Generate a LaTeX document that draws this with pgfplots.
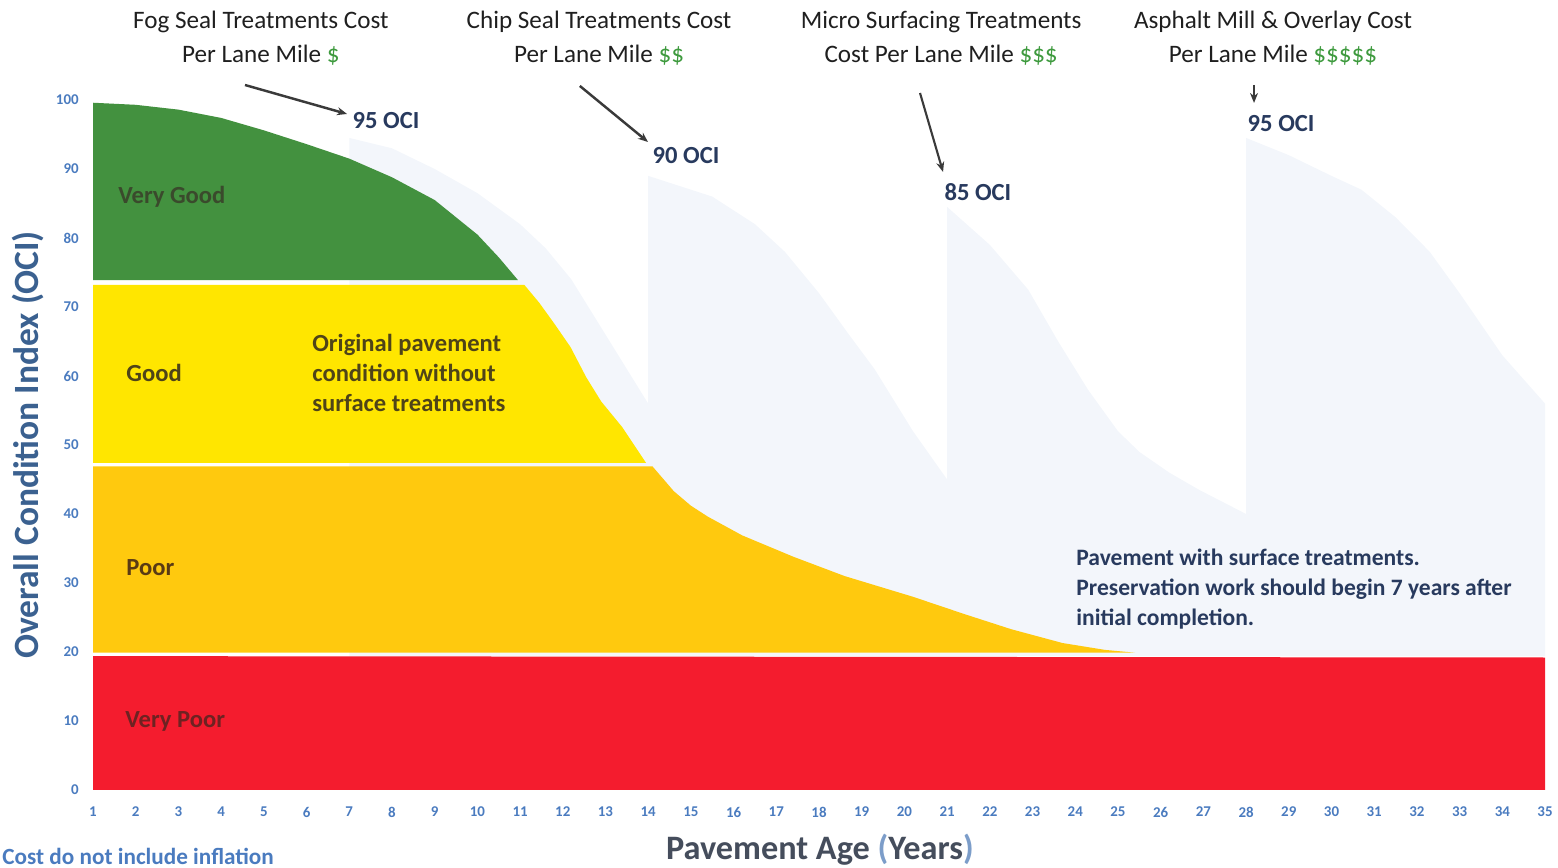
\documentclass[border=0pt]{standalone}
\usepackage{pgfplots}
\pgfplotsset{compat=1.18}
\usetikzlibrary{arrows.meta}
\usepackage{fontspec}
\setmainfont{Carlito}
\definecolor{vgreen}{HTML}{43913F}
\definecolor{vyellow}{HTML}{FFE600}
\definecolor{vorange}{HTML}{FFC90E}
\definecolor{vred}{HTML}{F41C2E}
\definecolor{faint}{HTML}{F3F6FB}
\definecolor{ticklab}{HTML}{4A7BBF}
\definecolor{ylab}{HTML}{3B6190}
\definecolor{xlab}{HTML}{454D5C}
\definecolor{paren}{HTML}{7C9DC9}
\definecolor{ocinavy}{HTML}{283A5E}
\definecolor{dollar}{HTML}{3E9A3E}
\definecolor{arrowgray}{HTML}{3A3A3A}
\definecolor{txtgreen}{HTML}{3A4A2C}
\definecolor{txtyellow}{HTML}{4F4418}
\definecolor{txtorange}{HTML}{5A3A14}
\definecolor{txtred}{HTML}{6E2222}
\begin{document}
\begin{tikzpicture}
\begin{axis}[
  name=ax, at={(0,0)}, anchor=south west,
  scale only axis, width=29.04cm, height=13.8cm,
  xmin=1, xmax=35, ymin=0, ymax=100,
  axis line style={draw=none}, major tick length=0pt,
  xtick={1,...,35}, ytick={0,10,...,100},
  /pgf/number format/assume math mode=true,
  ticklabel style={font=\fontsize{8.5}{9}\selectfont\bfseries, text=ticklab},
  xticklabel style={anchor=center, yshift=-0.44cm},
  yticklabel style={anchor=east, inner sep=0pt, xshift=-0.28cm},
  clip=false,
]
% faint treatment areas (pavement with surface treatments)
\addplot[fill=faint, draw=none] coordinates {(7,19.4)(7,94.5)(8,93)(9,90)(10,86.5)(11,82)(11.6,78.5)(12.2,74)(12.8,68)(13.4,62)(14,56)(14,19.4)} -- cycle;
\addplot[fill=faint, draw=none] coordinates {(14,19.4)(14,89)(15,87)(15.5,86)(16.5,82)(17.2,78)(18,72)(18.7,66)(19.3,61)(20.2,52)(21,45)(21,19.4)} -- cycle;
\addplot[fill=faint, draw=none] coordinates {(21,19.4)(21,84.5)(22,79)(22.9,72.5)(23.6,65)(24.3,58)(25,52)(25.5,49)(26.2,46)(26.9,43.5)(28,40)(28,19.4)} -- cycle;
\addplot[fill=faint, draw=none] coordinates {(28,19.4)(28,94.5)(29,92)(30,89)(30.7,87)(31.5,83)(32.3,78)(33,72)(34,63)(35,56)(35,19.4)} -- cycle;
% condition bands under the original curve
\addplot[fill=vgreen, draw=none] coordinates {(1,73.9)(1,99.6)(2,99.3)(3,98.6)(4,97.4)(5,95.6)(6,93.6)(7,91.5)(8,88.8)(9,85.5)(10,80.5)(10.5,77.2)(10.95,73.9)} -- cycle;
\addplot[fill=vyellow, draw=none] coordinates {(1,47.4)(1,73.2)(11.1,73.2)(11.45,70.6)(11.8,67.6)(12.18,64.2)(12.55,59.8)(12.9,56.3)(13.39,52.6)(13.95,47.4)} -- cycle;
\addplot[fill=vorange, draw=none] coordinates {(1,19.9)(1,46.9)(14.1,46.9)(14.6,43.3)(15.0,41.2)(15.4,39.6)(16.2,36.9)(17.4,33.8)(18.6,31)(20.2,28)(21.4,25.5)(22.5,23.3)(23.7,21.3)(24.7,20.3)(25.4,19.9)} -- cycle;
\addplot[fill=vred, draw=none] coordinates {(1,0)(1,19.4)(35,19.2)(35,0)} -- cycle;

% band labels
\node[anchor=west, inner sep=0pt, font=\fontsize{14}{17}\selectfont\bfseries, text=txtgreen] at (axis cs:1.585,85.94) {Very Good};
\node[anchor=west, inner sep=0pt, font=\fontsize{14}{17}\selectfont\bfseries, text=txtyellow] at (axis cs:1.773,60.43) {Good};
\node[anchor=west, inner sep=0pt, font=\fontsize{14}{17}\selectfont\bfseries, text=txtorange] at (axis cs:1.773,32.17) {Poor};
\node[anchor=west, inner sep=0pt, font=\fontsize{14}{17}\selectfont\bfseries, text=txtred] at (axis cs:1.749,10.0) {Very Poor};
\node[anchor=west, align=left, inner sep=0pt, font=\fontsize{14}{17}\selectfont\bfseries, text=txtyellow] at (axis cs:6.128,60.43) {Original pavement\\condition without\\surface treatments};
\node[anchor=west, align=left, inner sep=0pt, font=\fontsize{13.4}{17}\selectfont\bfseries, text=ocinavy] at (axis cs:24.018,29.13) {Pavement with surface treatments.\\Preservation work should begin 7 years after\\initial completion.};

% titles
\node[align=center, font=\fontsize{14.3}{19.3}\selectfont, text=black!88] at (axis cs:4.93,109) {Fog Seal Treatments Cost\\Per Lane Mile {\color{dollar}\$}};
\node[align=center, font=\fontsize{14.3}{19.3}\selectfont, text=black!88] at (axis cs:12.85,109) {Chip Seal Treatments Cost\\Per Lane Mile {\color{dollar}\$\$}};
\node[align=center, font=\fontsize{14.3}{19.3}\selectfont, text=black!88] at (axis cs:20.86,109) {Micro Surfacing Treatments\\Cost Per Lane Mile {\color{dollar}\$\$\$}};
\node[align=center, font=\fontsize{14.3}{19.3}\selectfont, text=black!88] at (axis cs:28.63,109) {Asphalt Mill \& Overlay Cost\\Per Lane Mile {\color{dollar}\$\$\$\$\$}};

% OCI labels
\node[font=\fontsize{14}{17}\selectfont\bfseries, text=ocinavy] at (axis cs:7.86,96.96) {95 OCI};
\node[font=\fontsize{14}{17}\selectfont\bfseries, text=ocinavy] at (axis cs:14.886,91.88) {90 OCI};
\node[font=\fontsize{14}{17}\selectfont\bfseries, text=ocinavy] at (axis cs:21.72,86.67) {85 OCI};
\node[font=\fontsize{14}{17}\selectfont\bfseries, text=ocinavy] at (axis cs:28.82,96.52) {95 OCI};

% arrows
\draw[arrowgray, line width=1.4pt, -{Stealth[length=0.2cm,width=0.16cm]}] (axis cs:4.559,102.17) -- (axis cs:6.948,97.97);
\draw[arrowgray, line width=1.4pt, -{Stealth[length=0.2cm,width=0.16cm]}] (axis cs:12.40,102.03) -- (axis cs:13.996,93.91);
\draw[arrowgray, line width=1.2pt, -{Stealth[length=0.2cm,width=0.16cm]}] (axis cs:20.365,101.01) -- (axis cs:20.904,89.57);
\draw[arrowgray, line width=1.4pt, -{Stealth[length=0.2cm,width=0.16cm]}] (axis cs:28.186,102.17) -- (axis cs:28.186,99.57);

% axis titles
\node[rotate=90, font=\fontsize{20.2}{22}\selectfont\bfseries, text=ylab] at (axis cs:-0.522,50) {Overall Condition Index (OCI)};
\node[font=\fontsize{19.5}{22}\selectfont\bfseries, text=xlab] at (axis cs:18.02,-8.7) {Pavement Age {\color{paren}(}Years{\color{paren})}};
\node[anchor=west, inner sep=0pt, font=\fontsize{13.2}{16}\selectfont\bfseries, text=ticklab] at (axis cs:-1.13,-9.57) {Cost do not include inflation};

\coordinate (BL) at (axis cs:-1.178,-11.304);
\coordinate (TR) at (axis cs:35.304,114.49);
\end{axis}
\pgfresetboundingbox
\path[use as bounding box] (BL) rectangle (TR);
\end{tikzpicture}
\end{document}
